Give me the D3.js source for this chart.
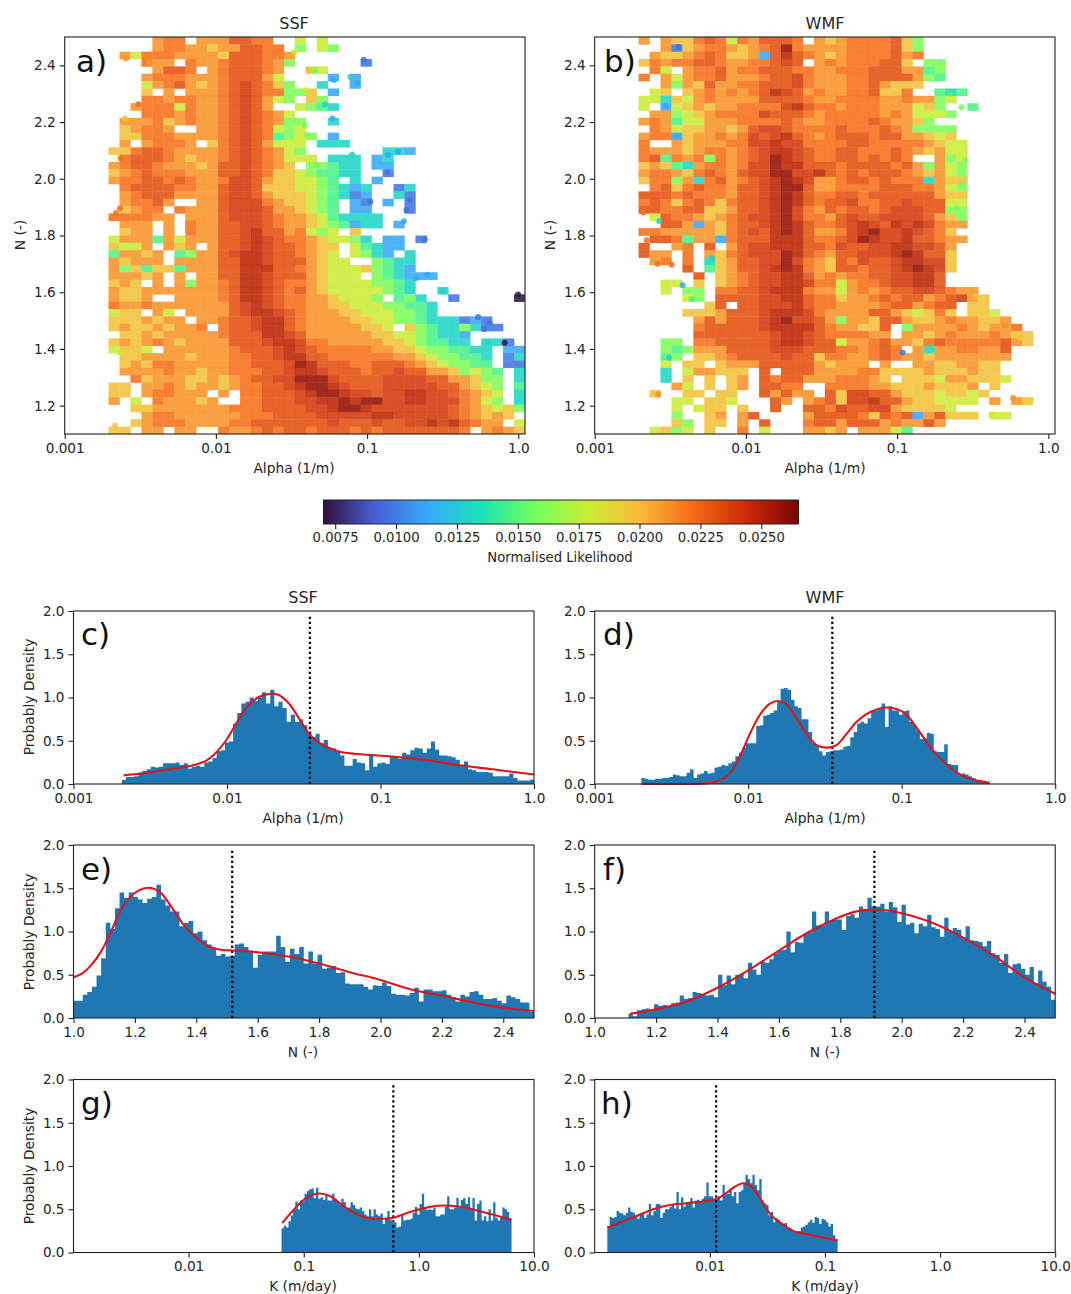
<!DOCTYPE html>
<html>
<head>
<meta charset="utf-8">
<script src="https://cdn.jsdelivr.net/npm/d3@7"></script>
<style>
body { margin: 0; background: #fff; }
svg { display: block; }
text { font-family: "DejaVu Sans", sans-serif; fill: #262626; }
</style>
</head>
<body>
<svg width="1071" height="1294"></svg>
<script>
// likelihood value for each character used in the grids below, '.' means no sample
var levelValues = {
    "0": 0.0072, "1": 0.0098, "2": 0.0113, "3": 0.0130, "4": 0.0147, "5": 0.0160, "6": 0.0180,
    "7": 0.0197, "8": 0.0211, "9": 0.0221, "a": 0.0231, "b": 0.0239, "c": 0.0248, "d": 0.0258
};
var turboStops = ["#30123b", "#4662d7", "#36aaf9", "#1ae4b6", "#72fe5e", "#c8ef34", "#faba39", "#f66b19", "#cb2a04", "#7a0403"];
var cbTicks = [0.0075, 0.01, 0.0125, 0.015, 0.0175, 0.02, 0.0225, 0.025];

// 42 columns in log alpha, 54 rows in N, top row is N = 2.5
var gridA = [
"........899.888aa99..6.6",
"........89988788aa99.5.65",
".....8699988887aaa998",
".......988.9889aaa985......1",
"........8aa9.89aaa98..76",
".......89998889aaa86....2.2",
".......689a8789aba975..3..2",
".......7.8.8889aba99557.2",
".......99899889aba865.75",
"......899969889aba8..6543",
".......99989889aba986",
".....8889789889aba9855..3",
".....78998..889aba9656",
".....7799988889aba94565.2",
".....8.89998.79aba8666.333",
"....779aa988889aba9865.......332",
".....9aaa987889aba98666.333.23",
"....89aa988878aaba987.55433.22",
"....789a999888aaba977654433..1",
"....899aa9a9889bba8776654.3.2",
".....9aaaa9988abba7776654323..13",
".....89aaa8888abba8777654312..31",
".....899a8..88abbb9877654.21.2.1",
".....7899.9888abbba887654.22...1",
"....999988.888abbba9887643333",
".....888.8.988aabba9887654233.2",
".....788.8.988aabcaa89656.7",
"....6888486888aabcba99876653.22.1",
"....7668.878.8aabcbaa9877.64322",
"....48878.4588abccbaa9876.6532.3",
"....87888.8888aaccbaaa8766..5433",
"....8574774888aacccaa98766675432",
"....88878.8.88aaccbaaa87666.543222",
"....787.8.85889accba998766665543",
"....87788888889accba9a8766666543..3",
"....8778..88889accba998876665.453..1.....0",
"....98898888888abcba99887766655443",
"....677.86.8888abccba9888776665543",
"....7778788.889aabcca9888877665543" + "33121",
"....787787889.9aabcca988888776.754" + "335311",
"....." + "778788888" + "9aaaccba88" + "8888776654" + "332",
"....7878987888" + "8aaabccb99" + "8888877654" + "433.331",
"....6776.88888" + "89aaabcba9" + "9999887765" + "54433.22",
"....." + "778888788" + "899aabccaa" + "9999998876" + "55443.13",
"....." + "787998888" + "899aaabdca" + "aa99aaa987" + "65544.11",
"....." + "888898878" + "8999aabccb" + "aaa9aabaa8" + "875654.3",
"......97888778" + "789aabbddd" + "baaaabbbba" + "a88755.3",
"....77.8898788" + "7899aabcdd" + "cbaaabbbbb" + "aa8765.4",
"....77.899888." + "8.99aaabcd" + "dcbbabbccb" + "ba9876.3",
"....8.6.988878" + "..99aaabbc" + "cdcddbbccb" + "bb9865.3",
"......77888888" + "8999aaaabb" + "cddcbbbbbb" + "ba987675",
".......8998888" + "88999aaaab" + "bbbbccbbbb" + "ba98787.",
"......78999888" + "899aaaaaaa" + "baaabaabbc" + "bca988.6",
"....77.88.88.." + "9889a9aa9a" + "aa9a9aaaaa" + "aa9.8987"
];
var gridB = [
"....8.8779a969" + "8aaa9.8789" + "999a75",
"......81789987" + "89ad988889" + "999a75",
".....87789a977" + "82aca98789" + "999a89",
"....79899aa988" + "99aba.8989" + "99aa7.55",
".....96.899a89" + "9aaa998899" + "9aaa8845",
"....9.86899a88" + "89aab98889" + "9aaaa854",
"......8587a889" + "9aaab98889" + "9a8777",
".....67.789898" + "9acba89889" + "9a779..434",
"....6637689888" + "8aaaa98899" + "998898856",
"....6.26787889" + "999bca9989" + "99888675.." + "4",
".....885678999" + "9baaa98999" + "998986665",
"....8984668889" + "999a988999" + "9a98875",
".....986778878" + "abba9999a9" + "99a985555",
"....8992788989" + "babca989aa" + "a9aa88767",
"....9..8788899" + "bbcbb9999a" + "a999998766",
"....9888789989" + "abccba99aa" + "999a987866",
"....9a49895989" + "abdcba99aa" + "9a9a9..856",
"....7874389989" + "bbdccaaa9a" + "aaa9a85865",
"....899879a98a" + "bbddbbca9a" + "9aaa987865",
"....7995839a89" + "abcdcb889a" + "a9a9993877",
".....9a79a998a" + "abcdda8899" + "99aaa99865",
"....aaa9a9998a" + "abcdca99aa" + "9aaaaaa877",
"....9a979a979a" + "abcdca9aab" + "99aabaaa66",
"....aa99aa778a" + "abcdb98a9a" + "a9abbbaa55",
".....6a998789a" + "bbcdb998ab" + "aabbbba875",
"......aa82879a" + "abcdca99ab" + "cbacbcb988",
"....998888879a" + "bacdca889b" + "cdbbcba97",
".....aa948829a" + "aaccca99ab" + "dcbbcaa988",
"....a..89.a.8a" + "bbcccaa9ba" + "abbccbba8",
"....a88.9.879a" + "bbbdca98aa" + "bbbcdcaa7",
".....89.9.378a" + "abbdb987a9" + "baabccbb7",
"........a.478a" + "abcdc987aa" + "9aabcdcb7",
".........a.789" + "abbcca8989" + "9aabbcca",
"......66.7.789" + "abbccb9968" + "99abbcca",
"......6.55.99a" + "abccc98868" + "989aabba98" + "8",
"........65.aaa" + "abbcca9978" + "89a9aa89ab" + "87",
"..........7a.a" + "abbbca9988" + "889aa89aa." + "77",
"........7778aa" + "abcccb9888" + "8aa876797." + "776",
".........8a8aa" + "abcdbba858" + "87aa877898" + "8778",
".........9aaaa" + "abcccca988" + "77a.588889" + "87889",
".........aaaaa" + "aabccba999" + "988.887898" + "889877",
"......55.99aaa" + "aabccbaa68" + "89a8879a99" + "999a87",
"......545888aa" + "aabbbaaa99" + "89a9.83889" + "988a",
"......45.7789a" + "aaabaa7998" + "89a9887888" + "8888",
"......6.77.788" + "8aaaaa8788" + "8.8..88778" + "877",
"......3.688777" + ".a.aaa8888" + "9977778777" + "877",
"......3.7.7.78" + ".a9aa88899" + "987.777688" + "7776",
".......86.7.78" + ".aa99..999" + "9887778777" + "8.7",
".....7..77.77." + ".a8a88.a7b" + "baa8777677" + "67",
".......66.776." + "..a8.89a7b" + "bcaa877666" + "6.8.87",
".......6.677.7" + "..a..aa9ba" + "abb877776.",
".......5..78.8" + "a....8aaaa" + "97a9a28a77" + "7.66",
".......75.77.8" + ".a...9aa8a" + "aa8988a8",
".....6756.7..9" + ".6...8878." + "88864"
];

// scatter points that stand out at the edge of the cloud: log10 alpha, N, level
var dotsA = [
[-1.022,2.42,"1"],[-0.0015,1.592,"0"],[-1.22,2.348,"2"],[-1.063,2.339,"2"],[-1.11,2.359,"3"],[-1.279,2.263,"3"],
[-1.229,2.213,"2"],[-1.099,2.086,"3"],[-0.861,2.084,"2"],[-0.795,2.096,"2"],[-0.865,2.022,"1"],[-0.718,1.926,"1"],
[-0.74,1.89,"1"],[-0.757,1.85,"2"],[-0.978,1.92,"1"],[-0.618,1.787,"1"],[-0.266,1.513,"1"],[-0.189,1.492,"1"],
[-0.226,1.469,"1"],[-0.09,1.422,"0"],[-0.2,1.424,"3"],[-0.601,1.662,"2"],[-0.673,1.65,"2"],[-0.497,1.603,"3"],
[-2.595,2.424,"8"],[-2.44,2.409,"8"],[-2.63,2.072,"9"],[-2.661,1.879,"9"],[-2.634,1.896,"9"],[-2.513,2.263,"9"],
[-2.601,2.213,"7"],[-2.639,1.387,"6"],[-2.667,1.129,"7"],[-1.39,2.385,"7"],[-1.345,2.383,"5"],[-1.407,2.312,"6"],
[-1.412,2.189,"5"],[-1.396,2.154,"5"],[-1.334,2.049,"5"],[-1.478,2.447,"6"]
];
var dotsB = [
[-2.447,2.465,"1"],[-2.529,2.256,"2"],[-2.458,2.151,"2"],[-0.718,2.406,"5"],[-0.574,2.252,"5"],[-0.651,2.301,"4"],
[-0.552,2.066,"5"],[-0.568,1.978,"5"],[-0.607,1.896,"5"],[-2.678,1.881,"9"],[-2.656,1.783,"9"],[-2.573,1.85,"3"],
[-2.584,1.70,"9"],[-2.491,1.697,"9"],[-2.418,1.625,"2"],[-2.227,1.72,"3"],[-2.359,1.576,"4"],[-2.509,1.369,"3"],
[-0.48,1.586,"7"],[-0.288,1.483,"8"],[-0.189,1.439,"7"],[-0.233,1.228,"8"],[-0.376,1.17,"6"],[-0.964,1.387,"1"],
[-2.579,1.24,"8"]
];

// histogram heights, 100 bins each
var histC = [.05,.08,.08,.09,.13,.15,.17,.20,.19,.20,.24,.24,.24,.25,.22,.24,.18,.20,.21,.20,.25,.26,.30,.38,.39,.48,.49,.70,.82,.93,.95,1.0,.96,1.0,1.06,.93,1.09,.90,.95,.88,.72,.80,.72,.75,.68,.60,.54,.58,.47,.51,.42,.41,.37,.33,.21,.21,.29,.25,.24,.16,.33,.20,.24,.25,.23,.31,.32,.29,.36,.34,.39,.42,.41,.36,.41,.49,.40,.33,.33,.32,.31,.28,.22,.26,.17,.16,.14,.14,.14,.13,.09,.09,.09,.09,.12,.07,.04,.04,.04,.05];
var histD = [.07,.06,.05,.05,.06,.06,.07,.07,.08,.11,.10,.09,.09,.13,.17,.07,.11,.12,.15,.12,.13,.19,.20,.22,.21,.24,.26,.32,.36,.42,.47,.47,.47,.67,.68,.79,.80,.82,.85,.95,1.10,1.11,1.09,.97,.90,.88,.75,.75,.60,.47,.45,.38,.33,.37,.38,.39,.39,.40,.43,.44,.54,.60,.70,.72,.70,.76,.85,.85,.88,.93,.66,.90,.85,.85,.80,.84,.85,.72,.68,.62,.52,.53,.59,.58,.38,.37,.37,.46,.23,.22,.22,.10,.12,.11,.09,.07,.04,.03,.03,.02];
var histE = [.20,.20,.27,.30,.36,.49,.69,1.10,1.03,1.27,1.45,1.39,1.45,1.40,1.37,1.33,1.38,1.40,1.54,1.37,1.30,1.23,1.23,1.06,1.10,1.12,.98,1.0,.90,.85,.80,.72,.74,.71,.72,.85,.86,.82,.78,.58,.73,.77,.77,.77,.95,.82,.65,.80,.74,.82,.63,.77,.63,.73,.57,.58,.60,.52,.53,.40,.39,.39,.39,.36,.33,.38,.37,.41,.37,.28,.27,.27,.26,.29,.35,.19,.33,.33,.31,.31,.32,.27,.24,.19,.27,.25,.30,.31,.27,.22,.22,.23,.20,.17,.26,.24,.22,.18,.18,.07];
var histF = [.05,.02,.09,.10,.11,.09,.16,.14,.15,.14,.17,.18,.26,.22,.23,.30,.29,.28,.26,.27,.24,.50,.38,.49,.39,.50,.51,.46,.64,.56,.50,.65,.64,.68,.75,.78,.79,1.0,.76,.88,.87,.97,.99,1.23,1.07,1.07,1.23,1.12,1.14,1.14,1.02,1.18,1.20,1.16,1.29,1.26,1.39,1.29,1.29,1.32,1.23,1.34,1.28,1.11,1.31,1.08,1.10,.98,1.09,1.06,1.19,1.05,1.03,.94,1.16,1.0,1.04,1.02,.93,1.06,.90,.89,.88,.83,.89,.75,.73,.64,.74,.52,.62,.63,.57,.50,.59,.40,.55,.42,.36,.21];
var histG = [.28,.31,.29,.36,.43,.49,.59,.50,.60,.59,.68,.71,.73,.74,.63,.75,.62,.64,.61,.66,.60,.60,.68,.62,.58,.55,.62,.58,.51,.52,.58,.55,.51,.50,.52,.48,.44,.42,.50,.42,.50,.44,.42,.45,.33,.39,.48,.38,.34,.35,.29,.30,.44,.37,.38,.38,.39,.46,.53,.44,.56,.68,.50,.49,.50,.49,.52,.42,.42,.44,.44,.53,.65,.50,.50,.52,.63,.52,.61,.63,.56,.64,.50,.63,.37,.56,.60,.37,.42,.36,.50,.37,.58,.40,.37,.40,.52,.50,.47,.38];
var histH = [.30,.41,.40,.41,.48,.46,.45,.43,.46,.52,.47,.46,.43,.39,.45,.46,.40,.44,.56,.43,.48,.56,.56,.40,.46,.50,.50,.53,.55,.51,.70,.50,.64,.53,.58,.58,.63,.52,.60,.61,.59,.62,.65,.81,.65,.65,.62,.63,.65,.60,.78,.67,.68,.72,.65,.70,.57,.70,.72,.80,.90,.85,.80,.90,.78,.72,.85,.60,.57,.55,.43,.47,.35,.40,.38,.35,.33,.34,.29,.28,.26,.25,.24,.25,.29,.30,.32,.35,.38,.34,.41,.40,.33,.39,.38,.35,.30,.33,.20,.14];

// red density curves, x is log10 for the log panels
var kdeC = [[-2.674,.10],[-2.517,.13],[-2.36,.175],[-2.225,.215],[-2.135,.27],[-2.067,.37],[-2.0,.52],[-1.933,.72],[-1.865,.90],[-1.798,1.0],[-1.73,1.04],[-1.663,1.03],[-1.596,.93],[-1.528,.75],[-1.461,.57],[-1.393,.47],[-1.326,.41],[-1.259,.37],[-1.169,.35],[-.944,.32],[-.719,.28],[-.495,.22],[-.27,.17],[0,.11]];
var kdeD = [[-2.696,0],[-2.511,0],[-2.293,.005],[-2.207,.03],[-2.12,.12],[-2.054,.32],[-1.989,.58],[-1.924,.80],[-1.859,.93],[-1.804,.96],[-1.75,.92],[-1.685,.76],[-1.62,.58],[-1.554,.45],[-1.489,.42],[-1.424,.45],[-1.359,.58],[-1.293,.72],[-1.207,.83],[-1.098,.885],[-.989,.83],[-.902,.65],[-.815,.43],[-.728,.26],[-.641,.13],[-.554,.06],[-.428,.015]];
var kdeE = [[1.0,.47],[1.03,.52],[1.06,.62],[1.09,.77],[1.12,.98],[1.15,1.22],[1.18,1.38],[1.21,1.47],[1.245,1.505],[1.28,1.46],[1.32,1.28],[1.36,1.07],[1.40,.93],[1.44,.83],[1.48,.79],[1.52,.78],[1.6,.76],[1.7,.71],[1.8,.63],[1.9,.53],[2.0,.44],[2.1,.33],[2.2,.26],[2.3,.18],[2.4,.12],[2.5,.08]];
var kdeF = [[1.115,.05],[1.2,.10],[1.3,.19],[1.4,.35],[1.5,.55],[1.6,.78],[1.7,1.0],[1.8,1.17],[1.85,1.23],[1.9,1.25],[1.95,1.245],[2.0,1.21],[2.1,1.10],[2.2,.93],[2.3,.72],[2.4,.47],[2.5,.28]];
var kdeG = [[-1.187,.34],[-1.097,.48],[-1.007,.60],[-.918,.67],[-.843,.68],[-.768,.65],[-.678,.56],[-.588,.48],[-.498,.42],[-.408,.39],[-.318,.39],[-.228,.40],[-.139,.44],[-.049,.48],[.041,.51],[.161,.54],[.281,.54],[.401,.52],[.521,.48],[.64,.44],[.805,.38]];
var kdeH = [[-2.89,.29],[-2.754,.36],[-2.638,.42],[-2.493,.50],[-2.348,.55],[-2.203,.57],[-2.058,.59],[-1.942,.62],[-1.855,.69],[-1.783,.76],[-1.71,.80],[-1.652,.78],[-1.58,.66],[-1.507,.50],[-1.435,.39],[-1.362,.32],[-1.275,.25],[-1.159,.21],[-1.043,.18],[-.89,.14]];

var nTicks = [1.2, 1.4, 1.6, 1.8, 2.0, 2.2, 2.4];
var alphaTicks = [0.001, 0.01, 0.1, 1];
var kTicks = [0.01, 0.1, 1, 10];
var densityTicks = [0, 0.5, 1, 1.5, 2];

var svg = d3.select("svg");
var defs = svg.append("defs");

// the source is a soft raster, a small blur takes the hard edge off the cells
defs.append("filter").attr("id", "soft")
    .attr("x", "-2%").attr("y", "-2%").attr("width", "104%").attr("height", "104%")
    .append("feGaussianBlur").attr("stdDeviation", 0.6);

var turbo = d3.piecewise(d3.interpolateRgb, turboStops);
var colorScale = d3.scaleSequential(turbo).domain([0.00702, 0.02653]);

var clipCount = 0;
function clipFor(x0, y0, w, h) {
    var id = "clip" + (clipCount++);
    defs.append("clipPath").attr("id", id).append("rect")
        .attr("x", x0).attr("y", y0).attr("width", w).attr("height", h);
    return "url(#" + id + ")";
}

function label(x, y, txt, size, anchor, rotate) {
    var t = svg.append("text")
        .attr("text-anchor", anchor || "middle")
        .attr("font-size", size)
        .text(txt);
    if (rotate) {
        t.attr("transform", "translate(" + x + "," + y + ") rotate(-90)");
    } else {
        t.attr("x", x).attr("y", y);
    }
    return t;
}

function fmtLog(d) {
    if (d >= 1) return d.toFixed(1);
    return String(d);
}

function drawAxes(g, xs, ys, xTicks, yTicks, xFmt, yFmt) {
    var bottom = ys.range()[0], left = xs.range()[0];
    var ax = g.append("g").attr("transform", "translate(0," + bottom + ")")
        .call(d3.axisBottom(xs).tickValues(xTicks).tickFormat(xFmt).tickSize(5).tickPadding(4));
    var ay = g.append("g").attr("transform", "translate(" + left + ",0)")
        .call(d3.axisLeft(ys).tickValues(yTicks).tickFormat(yFmt).tickSize(5).tickPadding(4));
    [ax, ay].forEach(function (a) {
        a.select(".domain").remove();
        a.selectAll("line").attr("stroke", "#222").attr("stroke-width", 1.1);
        a.selectAll("text").attr("font-size", 13.6).attr("font-family", '"DejaVu Sans"');
    });
    g.append("rect")
        .attr("x", left).attr("y", ys.range()[1])
        .attr("width", xs.range()[1] - left).attr("height", bottom - ys.range()[1])
        .attr("fill", "none").attr("stroke", "#222").attr("stroke-width", 1.1);
}

function drawMap(grid, dots, left) {
    var g = svg.append("g");
    var xs = d3.scaleLog().domain([0.001, 1.107]).range([left, left + 460.3]);
    var ys = d3.scaleLinear().domain([1.1, 2.5]).range([434, 37]);
    var logMin = -3, logStep = (Math.log10(1.107) + 3) / 42, nStep = 1.4 / 54;
    var clip = clipFor(left, 37, 460.3, 397);
    var inner = g.append("g").attr("clip-path", clip).append("g").attr("filter", "url(#soft)");

    var cells = [];
    grid.forEach(function (row, j) {
        row.split("").forEach(function (c, i) {
            if (c !== ".") cells.push({ i: i, j: j, v: levelValues[c] });
        });
    });
    inner.selectAll("rect").data(cells).enter().append("rect")
        .attr("x", function (d) { return xs(Math.pow(10, logMin + d.i * logStep)); })
        .attr("width", function (d) {
            return xs(Math.pow(10, logMin + (d.i + 1) * logStep)) - xs(Math.pow(10, logMin + d.i * logStep)) + 0.3;
        })
        .attr("y", function (d) { return ys(2.5 - d.j * nStep); })
        .attr("height", ys(1.1) - ys(1.1 + nStep) + 0.3)
        .attr("fill", function (d) { return colorScale(d.v); })
        .attr("fill-opacity", 0.88);

    inner.selectAll("circle").data(dots).enter().append("circle")
        .attr("cx", function (d) { return xs(Math.pow(10, d[0])); })
        .attr("cy", function (d) { return ys(d[1]); })
        .attr("r", 3)
        .attr("fill", function (d) { return colorScale(levelValues[d[2]]); })
        .attr("fill-opacity", 0.85);

    drawAxes(g, xs, ys, alphaTicks, nTicks, fmtLog, d3.format(".1f"));
}

function drawHist(values, kde, opts) {
    var g = svg.append("g");
    var top = opts.top, bottom = top + 173;
    var ys = d3.scaleLinear().domain([0, 2]).range([bottom, top]);
    var xs, toX;
    var step = (opts.hi - opts.lo) / values.length;
    if (opts.log) {
        xs = d3.scaleLog().domain(opts.domain).range([opts.left, opts.left + 460.5]);
        toX = function (v) { return xs(Math.pow(10, v)); };
    } else {
        xs = d3.scaleLinear().domain(opts.domain).range([opts.left, opts.left + 460.5]);
        toX = function (v) { return xs(v); };
    }

    // one stepped path for the bars, separate rects leave seams between them
    var bars = d3.area()
        .curve(d3.curveStepAfter)
        .x(function (d, i) { return toX(opts.lo + i * step); })
        .y0(ys(0))
        .y1(function (d) { return ys(d); });
    g.append("path").attr("d", bars(values.concat(values[values.length - 1])))
        .attr("fill", "#1f77b4");

    g.append("line")
        .attr("x1", toX(opts.vline)).attr("x2", toX(opts.vline))
        .attr("y1", ys(0)).attr("y2", ys(1.95))
        .attr("stroke", "#000").attr("stroke-width", 2.2).attr("stroke-dasharray", "2.2,2.8");

    var line = d3.line()
        .x(function (d) { return toX(d[0]); })
        .y(function (d) { return ys(d[1]); })
        .curve(d3.curveCatmullRom.alpha(0.5));
    g.append("path").attr("d", line(kde))
        .attr("fill", "none").attr("stroke", "#e0141c").attr("stroke-width", 2.1);

    drawAxes(g, xs, ys, opts.ticks, densityTicks, opts.fmt, d3.format(".1f"));
}

// top maps
drawMap(gridA, dotsA, 64.7);
drawMap(gridB, dotsB, 594.7);
label(294, 29, "SSF", 16);
label(825, 29, "WMF", 16);
label(294, 473, "Alpha (1/m)", 13.8);
label(825, 473, "Alpha (1/m)", 13.8);
label(25, 235, "N (-)", 13.8, "middle", true);
label(555, 235, "N (-)", 13.8, "middle", true);
label(76, 72, "a)", 31, "start").style("fill", "#111");
label(604, 72, "b)", 31, "start").style("fill", "#111");

// colour bar
var grad = defs.append("linearGradient").attr("id", "cbGrad");
turboStops.forEach(function (c, i) {
    grad.append("stop").attr("offset", (i / (turboStops.length - 1) * 100) + "%").attr("stop-color", c);
});
var cbScale = d3.scaleLinear().domain([0.00702, 0.02653]).range([323.5, 798.5]);
var cbG = svg.append("g");
cbG.append("rect").attr("x", 323.5).attr("y", 500).attr("width", 475).attr("height", 24)
    .attr("fill", "url(#cbGrad)").attr("stroke", "#222").attr("stroke-width", 1);
var cbAxis = cbG.append("g").attr("transform", "translate(0,524)")
    .call(d3.axisBottom(cbScale).tickValues(cbTicks).tickFormat(d3.format(".4f")).tickSize(5).tickPadding(4));
cbAxis.select(".domain").remove();
cbAxis.selectAll("line").attr("stroke", "#222").attr("stroke-width", 1.1);
cbAxis.selectAll("text").attr("font-size", 13.2).attr("font-family", '"DejaVu Sans"');
label(560, 562, "Normalised Likelihood", 13.2);

// histograms
var leftCol = 73.5, rightCol = 594.7;
drawHist(histC, kdeC, { left: leftCol, top: 611, log: true, domain: [0.001, 1], lo: -2.685, hi: 0, vline: -1.46, ticks: alphaTicks, fmt: fmtLog });
drawHist(histD, kdeD, { left: rightCol, top: 611, log: true, domain: [0.001, 1], lo: -2.696, hi: -0.428, vline: -1.452, ticks: alphaTicks, fmt: fmtLog });
drawHist(histE, kdeE, { left: leftCol, top: 845, log: false, domain: [1, 2.5], lo: 1, hi: 2.5, vline: 1.517, ticks: [1].concat(nTicks), fmt: d3.format(".1f") });
drawHist(histF, kdeF, { left: rightCol, top: 845, log: false, domain: [1, 2.5], lo: 1.11, hi: 2.5, vline: 1.911, ticks: [1].concat(nTicks), fmt: d3.format(".1f") });
drawHist(histG, kdeG, { left: leftCol, top: 1079.5, log: true, domain: [0.001, 10], lo: -1.193, hi: 0.805, vline: -0.222, ticks: kTicks, fmt: fmtLog });
drawHist(histH, kdeH, { left: rightCol, top: 1079.5, log: true, domain: [0.001, 10], lo: -2.89, hi: -0.89, vline: -1.945, ticks: kTicks, fmt: fmtLog });

label(303, 603, "SSF", 16);
label(825, 603, "WMF", 16);
label(303, 823, "Alpha (1/m)", 13.8);
label(825, 823, "Alpha (1/m)", 13.8);
label(303, 1057, "N (-)", 13.8);
label(825, 1057, "N (-)", 13.8);
label(303, 1291, "K (m/day)", 13.8);
label(825, 1291, "K (m/day)", 13.8);
label(34, 697, "Probably Density", 13.8, "middle", true);
label(34, 932, "Probably Density", 13.8, "middle", true);
label(34, 1166, "Probably Density", 13.8, "middle", true);
label(81, 645, "c)", 31, "start").style("fill", "#111");
label(603, 645, "d)", 31, "start").style("fill", "#111");
label(81, 880, "e)", 31, "start").style("fill", "#111");
label(603, 880, "f)", 31, "start").style("fill", "#111");
label(81, 1114, "g)", 31, "start").style("fill", "#111");
label(601, 1114, "h)", 31, "start").style("fill", "#111");
</script>
</body>
</html>
